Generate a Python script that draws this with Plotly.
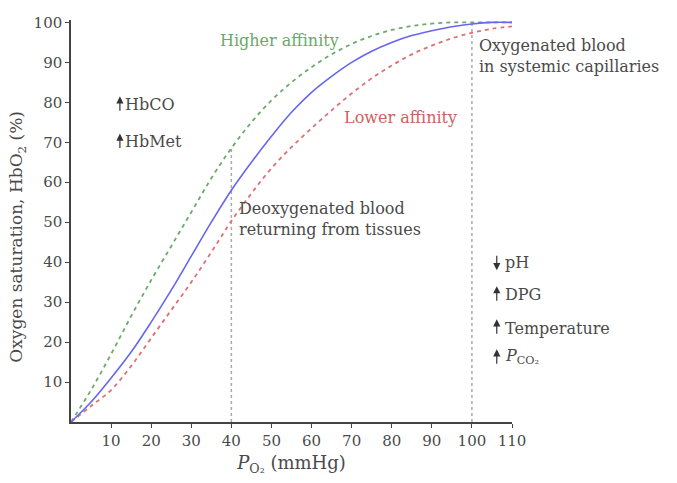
import plotly.graph_objects as go

# ---- data ----
po2 = [0, 5, 10, 15, 20, 25, 30, 35, 40, 45, 50, 55, 60, 65, 70, 75, 80, 85, 90, 95, 100, 105, 110]
sat_normal = [0, 5, 11, 17.5, 25, 33, 41.5, 50, 58, 65, 71.5, 77.5, 82.5, 86.5, 90, 92.8, 95, 96.7, 97.9, 98.9, 99.6, 100, 100]
sat_higher = [0, 8, 17, 26.5, 35.5, 44, 52.5, 61, 68.5, 75, 80.5, 85, 88.8, 92, 94.6, 96.6, 98.1, 99.1, 99.7, 100, 100, 100, 100]
sat_lower = [0, 4, 8, 14, 21, 28, 35, 42.5, 50.3, 57.2, 63.5, 68.8, 73.5, 78, 82.2, 86, 89.2, 92, 94.2, 96, 97.4, 98.4, 99]
reference_po2 = [40, 100]
x_ticks = [10, 20, 30, 40, 50, 60, 70, 80, 90, 100, 110]
y_ticks = [10, 20, 30, 40, 50, 60, 70, 80, 90, 100]

SERIF = "DejaVu Serif"
TXT = "#4a4a4a"

fig = go.Figure()

# vertical reference lines up to the higher-affinity curve
for xr in reference_po2:
    ytop = sat_higher[po2.index(xr)]
    fig.add_trace(go.Scatter(x=[xr, xr], y=[0, ytop], mode="lines",
                             line=dict(color="#aaaaaa", width=1.5, dash="dot"),
                             hoverinfo="skip", showlegend=False))

fig.add_trace(go.Scatter(x=po2, y=sat_higher, mode="lines", line_shape="spline",
                         line=dict(color="#6aaa6a", width=1.8, dash="4px,4px"), showlegend=False))
fig.add_trace(go.Scatter(x=po2, y=sat_lower, mode="lines", line_shape="spline",
                         line=dict(color="#e07070", width=1.8, dash="4px,4px"), showlegend=False))
fig.add_trace(go.Scatter(x=po2, y=sat_normal, mode="lines", line_shape="spline",
                         line=dict(color="#6666ee", width=1.6), showlegend=False))

ann = []
def text(x, y, t, color=TXT, size=16, align="left", xanchor="left"):
    ann.append(dict(x=x, y=y, xref="x", yref="y", text=t, showarrow=False,
                    xanchor=xanchor, yanchor="middle", align=align,
                    font=dict(family=SERIF, size=size, color=color)))

def arrow(x, y, up=True):
    ann.append(dict(x=x, y=y, xref="x", yref="y", text="", showarrow=True,
                    ax=0, ay=16 if up else -16, arrowhead=2, arrowsize=1.2,
                    arrowwidth=1.2, arrowcolor="#333333", standoff=0, startstandoff=0))

text(52.1, 95.5, "Higher affinity", color="#6aa86a", xanchor="center")
text(82.3, 76.3, "Lower affinity", color="#d06060", xanchor="center")
text(101.2, 91.5, "Oxygenated blood<br>in systemic capillaries")
text(41.4, 50.8, "Deoxygenated blood<br>returning from tissues")

text(13.0, 79.5, "HbCO")
text(13.0, 70.3, "HbMet")
arrow(12.2, 81.5)
arrow(12.2, 72.2)

text(107.8, 40.0, "pH")
text(107.8, 31.8, "DPG")
text(107.8, 23.5, "Temperature")
text(107.8, 16.3, "<i>P</i><sub>CO₂</sub>")
arrow(106.2, 38.0, up=False)
arrow(106.2, 34.0)
arrow(106.2, 25.7)
arrow(106.2, 18.2)

# y-axis title
ann.append(dict(x=-0.12, y=46.4, xref="paper", yref="y", text="Oxygen saturation, HbO<sub>2</sub> (%)",
                textangle=-90, showarrow=False, xanchor="center", yanchor="middle",
                font=dict(family=SERIF, size=17, color=TXT)))

axis_common = dict(showline=True, linecolor="#444444", linewidth=1.5, showgrid=False,
                   zeroline=False, ticks="outside", ticklen=4, tickwidth=1, tickcolor="#444444",
                   tickfont=dict(family=SERIF, size=15, color=TXT))

fig.update_layout(
    width=677, height=483,
    margin=dict(l=71, r=165, t=20, b=61),
    paper_bgcolor="white", plot_bgcolor="white",
    xaxis=dict(range=[0, 110], tickvals=x_ticks,
               title=dict(text="<i>P</i><sub>O₂</sub> (mmHg)", standoff=8,
                          font=dict(family=SERIF, size=18, color=TXT)), **axis_common),
    yaxis=dict(range=[0, 100.6], tickvals=y_ticks, **axis_common),
    annotations=ann,
)

fig.write_html("out.html", config={"displayModeBar": False},
               post_script="document.body.style.margin='0';")
